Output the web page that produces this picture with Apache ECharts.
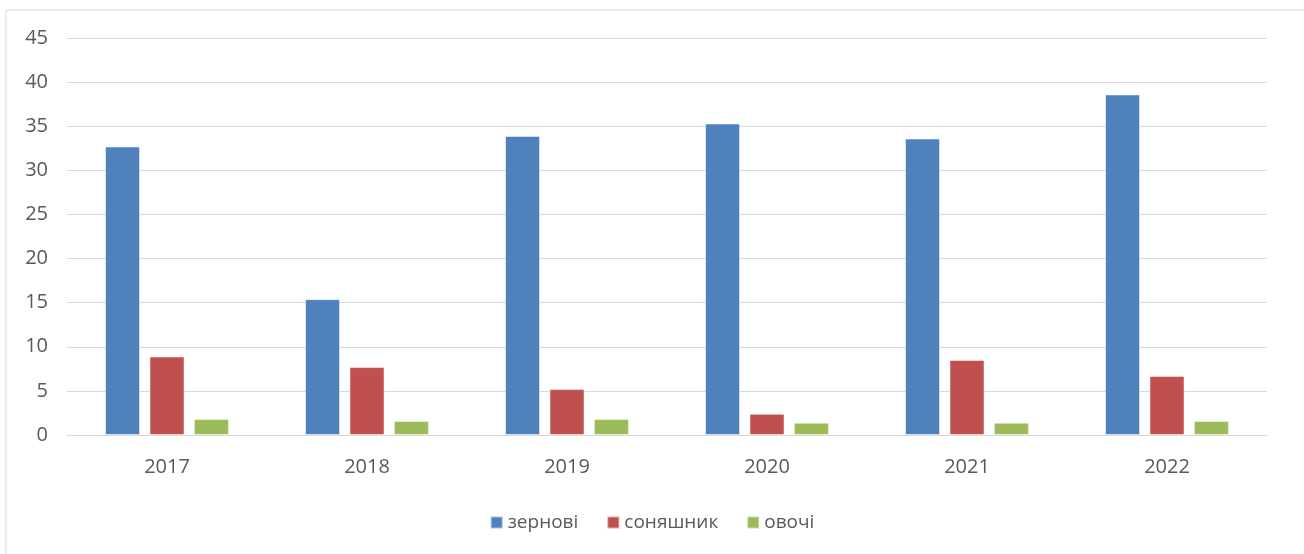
<!DOCTYPE html>
<html>
<head>
<meta charset="utf-8">
<style>
  html, body { margin: 0; padding: 0; background: #fff; }
  #chart { width: 1304px; height: 554px; }
</style>
<script src="https://cdn.jsdelivr.net/npm/echarts@6/dist/echarts.min.js"></script>
</head>
<body>
<div id="chart"></div>
<script>
const years = ['2017', '2018', '2019', '2020', '2021', '2022']
const grain = [32.7, 15.4, 33.9, 35.3, 33.6, 38.6] // зернові
const sunflower = [8.9, 7.7, 5.2, 2.4, 8.5, 6.7] // соняшник
const vegetables = [1.8, 1.6, 1.8, 1.4, 1.4, 1.6] // овочі

const textColor = '#595959'
const font = '"Open Sans", sans-serif'

const chart = echarts.init(document.getElementById('chart'))

function bar(name, data, color) {
  return {
    name: name,
    type: 'bar',
    data: data,
    barWidth: 35,
    barGap: '27%',
    itemStyle: { color: color, borderColor: 'rgba(255,255,255,0.5)', borderWidth: 1 },
    animation: false
  }
}

chart.setOption({
  backgroundColor: '#fff',
  textStyle: { fontFamily: font },
  graphic: [{
    type: 'rect',
    shape: { x: 6, y: 10, width: 1320, height: 560 },
    style: { fill: 'none', stroke: '#d9d9d9', lineWidth: 1 },
    silent: true
  }],
  legend: {
    data: ['зернові', 'соняшник', 'овочі'],
    left: 'center',
    top: 508,
    itemWidth: 12,
    itemHeight: 12,
    itemGap: 28,
    icon: 'rect',
    textStyle: { color: textColor, fontSize: 19, fontFamily: font }
  },
  grid: {
    left: 67,
    right: 37,
    top: 38,
    bottom: 119
  },
  xAxis: {
    type: 'category',
    data: years,
    axisTick: { show: false },
    axisLine: { lineStyle: { color: '#d9d9d9' } },
    axisLabel: { color: textColor, fontSize: 20, margin: 22, fontFamily: font }
  },
  yAxis: {
    type: 'value',
    min: 0,
    max: 45,
    interval: 5,
    axisLine: { show: false },
    axisTick: { show: false },
    axisLabel: { color: textColor, fontSize: 20, margin: 19, fontFamily: font },
    splitLine: { lineStyle: { color: '#d9d9d9' } }
  },
  series: [
    bar('зернові', grain, '#4F81BD'),
    bar('соняшник', sunflower, '#C0504D'),
    bar('овочі', vegetables, '#9BBB59')
  ]
})
</script>
</body>
</html>
